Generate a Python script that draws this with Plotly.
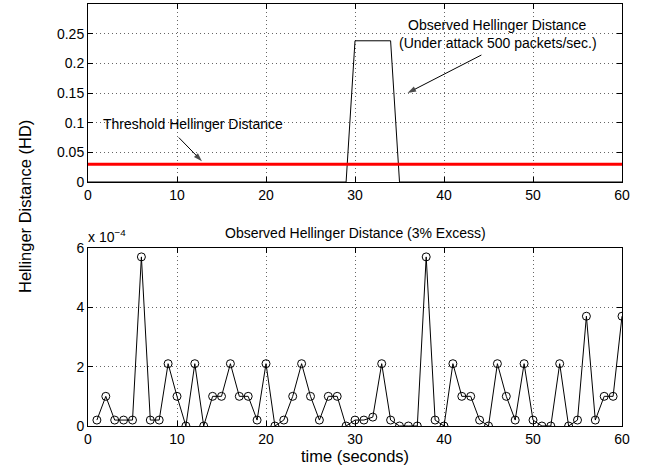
import plotly.graph_objects as go

# ---- data ----
time_top = list(range(0, 61))
hd_attack = [0.0]*30 + [0.238, 0.238, 0.237, 0.238, 0.238] + [0.0]*26
threshold = 0.03

time_bottom = list(range(1, 61))
hd_excess_e4 = [0.2, 1.0, 0.2, 0.2, 0.2, 5.7, 0.2, 0.2, 2.1, 1.0,
                0.0, 2.1, 0.0, 1.0, 1.0, 2.1, 1.0, 1.0, 0.2, 2.1,
                0.0, 0.2, 1.0, 2.1, 1.0, 0.2, 1.0, 1.0, 0.0, 0.2,
                0.2, 0.3, 2.1, 0.2, 0.0, 0.0, 0.0, 5.7, 0.2, 0.0,
                2.1, 1.0, 1.0, 0.2, 0.0, 2.1, 1.0, 0.2, 2.1, 0.2,
                0.0, 0.0, 2.1, 0.0, 0.2, 3.7, 0.2, 1.0, 1.0, 3.7]
hd_excess = [v * 1e-4 for v in hd_excess_e4]

x_ticks = [0, 10, 20, 30, 40, 50, 60]
top_yticks = [0, 0.05, 0.1, 0.15, 0.2, 0.25]
top_yticklabels = ["0", "0.05", "0.1", "0.15", "0.2", "0.25"]
bot_yticks = [0, 2e-4, 4e-4, 6e-4]
bot_yticklabels = ["0", "2", "4", "6"]

# annotation arrows: (tail_x, tail_y, head_x, head_y) in data units of the top panel
arrow_observed = (44.2, 0.214, 35.9, 0.150)
arrow_threshold = (10.2, 0.075, 12.8, 0.035)

FONT = "Liberation Sans, Arial, Helvetica, sans-serif"

# layout geometry (pixels)
L, R, T, B = 88, 622, 4, 426
W, H = 646, 468
PW, PH = R - L, B - T
TOP_BOTTOM, BOT_TOP = 182, 248


def px(xp):
    return (xp - L) / PW


def py(yp):
    return (B - yp) / PH


fig = go.Figure()
fig.add_trace(go.Scatter(x=time_top, y=hd_attack, mode="lines",
                         line=dict(color="black", width=1), xaxis="x", yaxis="y", showlegend=False))
fig.add_trace(go.Scatter(x=[0, 60], y=[threshold, threshold], mode="lines",
                         line=dict(color="#ff0000", width=3), xaxis="x", yaxis="y", showlegend=False))
fig.add_trace(go.Scatter(x=time_bottom, y=hd_excess, mode="lines+markers",
                         line=dict(color="black", width=1),
                         marker=dict(symbol="circle-open", size=8, color="black", line=dict(width=1)),
                         xaxis="x2", yaxis="y2", showlegend=False))

for tx, ty, hx, hy in (arrow_observed, arrow_threshold):
    fig.add_trace(go.Scatter(x=[tx, hx], y=[ty, hy], mode="lines+markers",
                             line=dict(color="black", width=1),
                             marker=dict(symbol=["circle", "arrow"], size=[0, 9], color="black",
                                         angleref="previous", line=dict(width=0)),
                             xaxis="x", yaxis="y", showlegend=False, hoverinfo="skip"))

axis_common = dict(showline=True, linecolor="black", linewidth=1, mirror="ticks",
                   ticks="inside", ticklen=5, tickcolor="black",
                   showgrid=True, gridcolor="#666666", griddash="1px,3px", gridwidth=1,
                   zeroline=False, tickfont=dict(size=14, color="black", family=FONT))

fig.update_layout(
    width=W, height=H,
    margin=dict(l=L, r=W - R, t=T, b=H - B, autoexpand=False),
    paper_bgcolor="white", plot_bgcolor="white",
    font=dict(family=FONT, size=14, color="black"),
    xaxis=dict(domain=[0, 1], range=[0, 60], tickvals=x_ticks, anchor="y", **axis_common),
    yaxis=dict(domain=[py(TOP_BOTTOM), 1.0], range=[0, 0.3], tickvals=top_yticks,
               ticktext=top_yticklabels, anchor="x", **axis_common),
    xaxis2=dict(domain=[0, 1], range=[0, 60], tickvals=x_ticks, anchor="y2",
                title=dict(text="time (seconds)", font=dict(size=16.5), standoff=2), **axis_common),
    yaxis2=dict(domain=[0, py(BOT_TOP)], range=[0, 6e-4], tickvals=bot_yticks,
                ticktext=bot_yticklabels, anchor="x2", **axis_common),
)

# text annotations in the top panel (data coordinates)
top_texts = [
    ("Observed Hellinger Distance", 46.0, 0.265),
    ("(Under attack 500 packets/sec.)", 46.1, 0.235),
    ("Threshold Hellinger Distance", 11.8, 0.097),
]
for txt, xv, yv in top_texts:
    fig.add_annotation(text=txt, xref="x", yref="y", x=xv, y=yv, showarrow=False,
                       font=dict(size=14, color="black"), xanchor="center", yanchor="middle")

fig.add_annotation(text="Observed Hellinger Distance (3% Excess)", xref="paper", yref="paper",
                   x=0.5, y=py(233), showarrow=False, font=dict(size=14, color="black"),
                   xanchor="center", yanchor="middle")
fig.add_annotation(text="x 10<sup>−4</sup>", xref="paper", yref="paper",
                   x=px(86), y=py(236), showarrow=False,
                   xanchor="left", yanchor="middle", font=dict(size=14, color="black"))
fig.add_annotation(text="Hellinger Distance (HD)", xref="paper", yref="paper",
                   x=px(25), y=py(207), showarrow=False, textangle=-90,
                   xanchor="center", yanchor="middle", font=dict(size=16.5, color="black"))

fig.write_html("out.html", config={"displayModeBar": False},
               post_script="document.body.style.margin='0px';")
